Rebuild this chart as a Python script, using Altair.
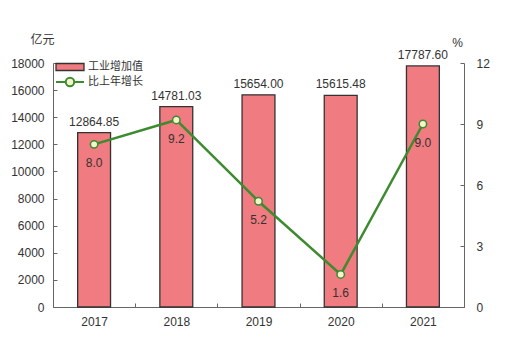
import altair as alt
import pandas as pd

years = ["2017", "2018", "2019", "2020", "2021"]
values = [12864.85, 14781.03, 15654.00, 15615.48, 17787.60]
growth = [8.0, 9.2, 5.2, 1.6, 9.0]
left_ticks = [0, 2000, 4000, 6000, 8000, 10000, 12000, 14000, 16000, 18000]
right_ticks = [0, 3, 6, 9, 12]

df = pd.DataFrame({
    "year": years,
    "value": values,
    "growth": growth,
    "s1": ["工业增加值"] * 5,
    "s2": ["比上年增长"] * 5,
})
df["vlabel"] = [f"{v:.2f}" for v in values]
df["glabel"] = [f"{g:.1f}" for g in growth]

W, H = 411, 244
NUM_FONT = "Liberation Sans"
CJK_FONT = "Noto Sans CJK SC"
TXT = "#333333"
AX = "#666666"
BAR = "#F07B80"
GREEN = "#3D8B2F"
PT_FILL = "#F4F4CF"

x_enc = alt.X(
    "year:N",
    sort=years,
    scale=alt.Scale(paddingInner=0, paddingOuter=0),
    axis=alt.Axis(
        orient="top", offset=-H, title=None, tickBand="extent",
        tickSize=4, labelBaseline="top", labelPadding=-13,
        labelAngle=0, labelFont=NUM_FONT, labelFontSize=12, labelColor=TXT,
        domainColor=AX, tickColor=AX, grid=False,
    ),
)

left_axis = alt.Axis(
    orient="right", offset=-W, values=left_ticks, tickSize=4, format="d",
    labelAlign="right", labelPadding=-13, labelFont=NUM_FONT,
    labelFontSize=12, labelColor=TXT, domainColor=AX, tickColor=AX,
    grid=False, title="亿元", titleAngle=0, titleX=-11, titleY=-24,
    titleAlign="center", titleBaseline="middle", titleFont=CJK_FONT,
    titleFontSize=12, titleFontWeight="normal", titleColor=TXT,
)
right_axis = alt.Axis(
    orient="left", offset=-W, values=right_ticks, tickSize=4, format="d",
    labelAlign="left", labelPadding=-16, labelFont=NUM_FONT,
    labelFontSize=12, labelColor=TXT, domainColor=AX, tickColor=AX,
    grid=False, title="%", titleAngle=0, titleX=-7, titleY=-21,
    titleAlign="center", titleBaseline="middle", titleFont=NUM_FONT,
    titleFontSize=12, titleFontWeight="normal", titleColor=TXT,
)

y_left = alt.Y("value:Q", scale=alt.Scale(domain=[0, 18000], nice=False), axis=left_axis)
y_right = alt.Y("growth:Q", scale=alt.Scale(domain=[0, 12], nice=False), axis=right_axis)

base = alt.Chart(df)

bars = base.mark_bar(
    width=alt.RelativeBandSize(0.4), stroke="#333333", strokeWidth=1.3
).encode(
    x=x_enc,
    y=y_left,
    fill=alt.Fill(
        "s1:N",
        scale=alt.Scale(domain=["工业增加值"], range=[BAR]),
        legend=alt.Legend(
            title=None, orient="none", legendX=2, legendY=-11,
            symbolType="M-1,-0.25H1V0.25H-1Z", symbolSize=784,
            symbolStrokeColor="#333333", symbolStrokeWidth=1.3,
            symbolFillColor=BAR, symbolOpacity=1,
            labelFont=CJK_FONT, labelFontSize=11, labelColor=TXT,
            labelOffset=3, padding=0,
        ),
    ),
)

bar_text = base.mark_text(
    baseline="bottom", dy=-4, font=NUM_FONT, fontSize=12, color=TXT
).encode(x=x_enc, y=y_left, text="vlabel:N")

left_layer = alt.layer(bars, bar_text)

line = base.mark_line(strokeWidth=2.5).encode(
    x=x_enc,
    y=y_right,
    stroke=alt.Stroke(
        "s2:N",
        scale=alt.Scale(domain=["比上年增长"], range=[GREEN]),
        legend=alt.Legend(
            title=None, orient="none", legendX=2, legendY=4,
            symbolType="M-1,0H-0.3M0.3,0H1M-0.3,0A0.3,0.3,0,1,1,0.3,0A0.3,0.3,0,1,1,-0.3,0Z",
            symbolSize=784, symbolStrokeWidth=2, symbolFillColor=PT_FILL,
            symbolStrokeColor=GREEN,
            labelFont=CJK_FONT, labelFontSize=11, labelColor=TXT,
            labelOffset=3, padding=0,
        ),
    ),
)

points = base.mark_point(
    filled=True, fill=PT_FILL, stroke=GREEN, strokeWidth=1.5, size=55, opacity=1
).encode(x=x_enc, y=y_right)

line_text = base.mark_text(
    baseline="middle", dy=19, font=NUM_FONT, fontSize=12, color=TXT
).encode(x=x_enc, y=y_right, text="glabel:N")

right_layer = alt.layer(line, points, line_text)

chart = (
    alt.layer(left_layer, right_layer)
    .resolve_scale(y="independent")
    .properties(
        width=W, height=H,
        autosize=alt.AutoSizeParams(type="none"),
        padding={"left": 53, "top": 63, "right": 62, "bottom": 47},
        background="white",
    )
    .configure_view(stroke=None)
)

chart.save("out.html", embed_options={"renderer": "svg", "actions": False})
